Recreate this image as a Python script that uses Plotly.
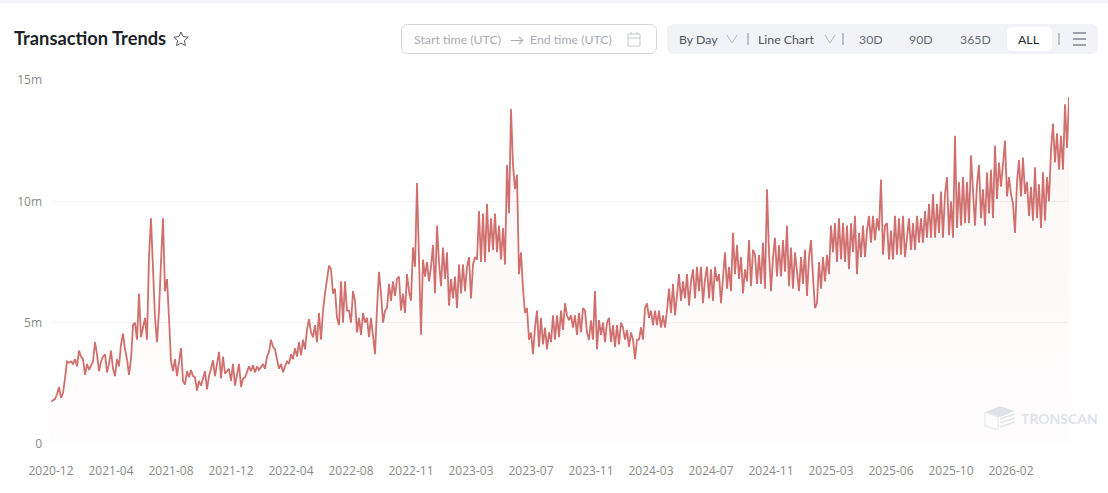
import math
import pandas as pd
import plotly.graph_objects as go

W = 1108
H = 493

# daily transactions in millions, split by stretch
vals_2021 = [1.75,1.8,1.85,2.05,2.35,1.9,2.1,2.7,3.4,3.35,3.4,3.3,3.5,3.2,3.85,3.6,3.5,2.85,3.3,3.05,
    3.2,3.4,4.2,3.7,3.0,3.4,3.6,3.7,2.95,3.3,3.85,3.1,2.8,3.5,3.2,4.1,4.55,3.9,3.5,2.85,
    3.5,4.9,5.0,4.3,6.2,4.4,4.8,5.2,4.3,7.7,9.3,7.0,5.2,4.2,5.5,7.5,9.3,6.3,6.8,5.2,
    3.4,3.0,3.5,2.8,3.3,3.95,2.6,2.45,3.0,2.75,3.05,2.8,2.75,2.2,2.6,2.4,2.7,3.0,2.25,2.8,
    3.1,3.45,2.8,3.3,3.8,2.7,3.6,2.9,3.0,3.1,2.6,3.3,2.4,2.9,3.3,2.35,2.7,2.75,3.0,3.2]
vals_2022 = [3.0,3.25,2.95,3.2,3.05,3.2,3.3,3.1,3.6,3.8,4.3,4.0,3.9,3.5,3.1,3.3,2.95,3.2,3.4,3.3,
    3.7,3.5,3.95,3.6,4.2,3.65,4.3,3.9,4.7,5.15,4.6,4.4,4.9,4.2,5.4,4.3,5.5,6.2,6.8,7.35,
    7.2,6.2,6.4,5.2,4.9,6.7,5.0,6.7,5.5,5.5,5.0,6.3,5.9,4.6,5.2,4.5,5.4,5.0,5.2,4.4]
vals_2022b = [5.2,4.3,3.7,5.6,7.1,6.2,5.0,5.5,5.6,6.6,5.9,6.7,6.1,6.8,6.9,5.5,6.2,5.4,7.0,6.3,
    5.9,8.1,7.3,10.75,7.0,4.5,7.6,6.9,7.5,6.7,7.3,8.2,6.2,9.0,7.5,6.5,8.1,6.8,7.9,5.7,
    6.8,6.0,6.9,5.6,7.4,6.2,7.4,6.3,7.3,7.7,6.0,7.4,7.7,7.6,9.6,7.5,9.5,7.5,9.9,7.9,
    9.3,8.0,9.5,7.9,9.0,7.6,8.9,7.4,11.5,9.5,13.8,11.5,10.5,11.1,7.0,7.9,6.4,5.4,5.6,4.3]
vals_2023 = [4.6,3.7,4.8,5.5,4.0,5.2,4.1,4.8,3.9,4.6,4.2,5.3,4.3,5.3,4.4,5.5,4.7,5.8,5.3,5.1,
    5.3,4.8,5.3,4.5,5.4,4.6,5.6,5.5,4.6,4.3,5.1,4.3,6.3,3.9,5.1,4.5,5.0,4.2,5.0,5.2,
    4.2,4.9,4.0,4.9,4.1,5.0,4.8,4.3,4.7,4.0,4.6,4.3,3.5,4.3,4.3,4.8,4.3,5.6,5.8,5.2,
    5.5,4.9,5.5,4.9,5.5,4.8,5.3,4.8,5.5,6.4,5.4,6.6,5.3,6.2,7.0,5.9,6.7,6.0,7.0,5.7,
    6.7,7.2,6.0,7.3,6.3,7.3,5.8,6.8,7.3,6.0,7.2,5.9,7.3,6.7,7.0,5.8,7.0,7.9,6.4,7.3,
    6.3,8.7,7.0,8.2,6.8]
vals_2024 = [7.7,6.2,7.2,6.7,8.4,6.5,8.0,7.8,6.6,7.8,6.6,8.3,6.4,10.5,7.9,6.3,7.7,8.5,6.9,8.2,
    6.9,8.4,7.1,9.0,6.5,8.1,6.4,7.9,7.0,6.3,7.7,6.6,8.0,6.1,7.7,8.4,6.9,5.6,5.8,7.5,
    6.4,7.7,6.7,7.8,7.0,9.0,7.9,9.1,7.5,9.3,7.6,9.1,7.5,9.0,7.2,9.1,7.9,9.4,7.0,8.7,
    7.7,9.0,7.7,8.8,9.4,8.3,9.4,8.4,9.3,8.8,10.9,7.8,9.0,9.1,7.6,8.8,7.6,9.4,7.8,9.3]
vals_2025 = [7.8,9.4,7.7,8.6,9.3,8.0,9.1,8.0,9.4,8.3,9.3,8.3,9.6,8.5,9.9,8.5,10.3,8.5,9.9,8.7,
    10.4,8.5,10.3,11.0,8.6,10.0,8.5,12.7,8.9,10.8,9.0,11.0,9.1,10.8,9.1,11.9,10.3,9.0,10.7,11.5,
    9.3,10.5,9.0,11.2,9.5,11.3,9.3,12.3,10.1,11.6,10.6,11.4,12.5,10.2,11.0,10.3,9.9,8.7,10.8,11.7,
    10.2,11.8,10.3,10.8,9.4,10.6,9.2,11.4,9.3,10.7,8.9,11.2,9.2,11.0,10.0,12.1,13.2,11.6,
    12.8,11.3,12.7,11.3,14.0,12.2,14.3]

tick_labels = ["2020-12","2021-04","2021-08","2021-12","2022-04","2022-08","2022-11","2023-03","2023-07",
    "2023-11","2024-03","2024-07","2024-11","2025-03","2025-06","2025-10","2026-02"]
y_ticks = [0, 5, 10, 15]
y_labels = ["0", "5m", "10m", "15m"]

values = vals_2021 + vals_2022 + vals_2022b + vals_2023 + vals_2024 + vals_2025
dates = pd.date_range("2020-12-20", periods=len(values), freq=pd.Timedelta(days=118) / 30)
tick_dates = list(dates[::30])[:len(tick_labels)]


def px(x, y):
    return "%.5f,%.5f" % (x / W, 1 - y / H)


def path_shape(d, line=None, fill=None, width=1):
    return dict(type="path", xref="paper", yref="paper", path=d, layer="above",
                line=dict(color=line or "rgba(0,0,0,0)", width=width), fillcolor=fill or "rgba(0,0,0,0)")


def poly(points, close=False):
    d = "M" + " L".join(px(x, y) for x, y in points)
    return d + (" Z" if close else "")


def round_rect(x0, y0, x1, y1, r, line=None, fill=None):
    pts = []
    for cx, cy, a0 in [(x1 - r, y0 + r, -90), (x1 - r, y1 - r, 0), (x0 + r, y1 - r, 90), (x0 + r, y0 + r, 180)]:
        for k in range(6):
            a = math.radians(a0 + k * 18)
            pts.append((cx + r * math.cos(a), cy + r * math.sin(a)))
    return path_shape(poly(pts, True), line, fill)


def label(x, y, text, size=12, color="#8a8f99", family="Lato", anchor="center"):
    return dict(xref="paper", yref="paper", x=x / W, y=1 - y / H, text=text, showarrow=False, xanchor=anchor,
                yanchor="middle", font=dict(size=size, color=color, family=family))


shapes = [
    dict(type="rect", xref="paper", yref="paper", x0=0, x1=1, y0=1 - 3 / H, y1=1, fillcolor="#f3f4f8", line_width=0, layer="below"),
    round_rect(401.5, 24.5, 656.5, 53.5, 6, line="#d4d6da"),
    round_rect(667, 24, 1098, 54, 6, fill="#f2f3f6"),
    round_rect(1007, 27, 1052, 51, 5, fill="#ffffff"),
]

# small separators in the toolbar
for sx in [748, 843, 1059]:
    shapes.append(path_shape(poly([(sx, 33), (sx, 45)]), line="#8a8f99"))
# chevrons
for cx in [732, 830]:
    shapes.append(path_shape(poly([(cx - 5, 35), (cx, 43), (cx + 5, 35)]), line="#b5b9c0"))
# menu icon
for my in [33, 39, 45]:
    shapes.append(path_shape(poly([(1073, my), (1086, my)]), line="#80858e", width=1.5))
# calendar icon
shapes.append(path_shape(poly([(628, 34), (640, 34), (640, 46), (628, 46)], True), line="#c6c9ce"))
shapes.append(path_shape(poly([(628, 38), (640, 38)]), line="#c6c9ce"))
shapes.append(path_shape(poly([(631, 32), (631, 35)]), line="#c6c9ce"))
shapes.append(path_shape(poly([(637, 32), (637, 35)]), line="#c6c9ce"))
# star next to the title
star = []
for k in range(10):
    rad = 7.5 if k % 2 == 0 else 3.6
    a = math.radians(-90 + k * 36)
    star.append((181 + rad * math.cos(a), 39.5 + rad * math.sin(a)))
shapes.append(path_shape(poly(star, True), line="#55585e"))
# watermark cube
wm = "#e2e6ea"
shapes.append(path_shape(poly([(985, 412), (1000, 406), (1015, 411), (1000, 417)], True), fill="#dfe3e8"))
shapes.append(path_shape(poly([(985, 412), (985, 426), (998, 430), (998, 417)], True), line=wm))
for wy in [417, 421, 425]:
    shapes.append(path_shape(poly([(1000, wy + 2), (1015, wy - 3)]), line=wm, width=1.5))

annotations = [
    label(12, 38, "<b>Transaction Trends</b>", size=18.3, color="#1b1f27", anchor="left"),
    label(412, 39, "Start time (UTC)", size=12.3, color="#a8abb2", anchor="left"),
    label(517, 39, "→", size=14, color="#a8abb2"),
    label(528, 39, "End time (UTC)", size=12.3, color="#a8abb2", anchor="left"),
    label(677, 39, "By Day", size=12.3, color="#4f535b", anchor="left"),
    label(756, 39, "Line Chart", size=12.3, color="#4f535b", anchor="left"),
    label(871, 39, "30D", size=12.3, color="#686c74"),
    label(921, 39, "90D", size=12.3, color="#686c74"),
    label(975, 39, "365D", size=12.3, color="#686c74"),
    label(1029, 39, "ALL", size=12.3, color="#23262c"),
    label(1019, 418, "<b>TRONSCAN</b>", size=14, color="#e0e4e8", anchor="left"),
]

fig = go.Figure(go.Scatter(
    x=dates, y=values, mode="lines",
    line=dict(color="#d0706e", width=1.8),
    fill="tozeroy",
    fillgradient=dict(type="vertical", colorscale=[[0, "rgba(207,109,107,0.015)"], [1, "rgba(207,109,107,0.06)"]]),
    hoverinfo="skip",
))

fig.update_layout(
    width=W, height=H, margin=dict(l=0, r=0, t=0, b=0, autoexpand=False),
    paper_bgcolor="white", plot_bgcolor="white", showlegend=False,
    font=dict(family="Open Sans", size=12, color="#8a8a8a"),
    shapes=shapes, annotations=annotations,
    xaxis=dict(
        domain=[51 / W, 1069 / W], range=[dates[0], dates[-1]], tickmode="array",
        tickvals=tick_dates, ticktext=tick_labels, showgrid=False, zeroline=False,
        showline=False, ticks="", ticklabelstandoff=18, tickangle=0,
    ),
    yaxis=dict(
        domain=[1 - 444 / H, 1 - 80 / H], range=[0, 15], tickmode="array",
        tickvals=y_ticks, ticktext=y_labels, gridcolor="#f3f3f3", gridwidth=1, zeroline=False,
        showline=False, ticks="", ticklabelstandoff=8,
    ),
)

fig.write_html("out.html", config=dict(displayModeBar=False),
               post_script="document.body.style.margin='0';document.documentElement.style.overflow='hidden';")
